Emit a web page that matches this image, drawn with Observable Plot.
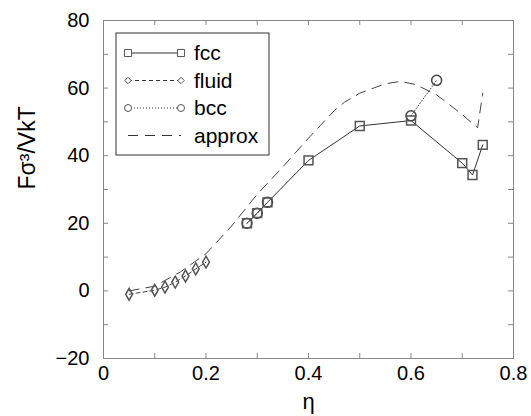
<!DOCTYPE html>
<html><head><meta charset="utf-8">
<script src="https://cdn.jsdelivr.net/npm/d3@7"></script>
<script src="https://cdn.jsdelivr.net/npm/@observablehq/plot@0.6"></script>
<style>body{margin:0;background:#fff}</style>
</head><body><div id="chart"></div>
<script>
// ---- data ----
const fccEta = [0.28, 0.30, 0.32, 0.40, 0.50, 0.60, 0.70, 0.72, 0.74];
const fccF   = [20.0, 23.0, 26.2, 38.6, 48.8, 50.4, 37.8, 34.3, 43.2];
const fluidEta = [0.05, 0.10, 0.12, 0.14, 0.16, 0.18, 0.20];
const fluidF   = [-1.0, 0.2, 1.1, 2.6, 4.4, 6.5, 8.5];
const bccEta = [0.28, 0.30, 0.32, 0.60, 0.65];
const bccF   = [20.0, 23.0, 26.2, 51.8, 62.3];
const bccSeg = [1, 1, 1, 2, 2];
const approxEta = [0.05, 0.10, 0.15, 0.20, 0.25, 0.30, 0.35, 0.40, 0.45, 0.47, 0.50, 0.55, 0.58, 0.61, 0.65, 0.70, 0.72, 0.73, 0.74];
const approxF   = [0.0, 1.4, 5.6, 11.0, 19.2, 28.6, 36.7, 45.2, 53.3, 55.8, 58.5, 61.3, 62.0, 61.0, 58.0, 52.2, 49.5, 48.3, 58.5];
const xTicks = [0, 0.1, 0.2, 0.3, 0.4, 0.5, 0.6, 0.7, 0.8];
const xLabels = [0, 0.2, 0.4, 0.6, 0.8];
const yTicks = [-20, -10, 0, 10, 20, 30, 40, 50, 60, 70, 80];
const yLabels = [-20, 0, 20, 40, 60, 80];
const seriesNames = ["fcc", "fluid", "bcc", "approx"];
const xTitle = "η";
const yTitle = "Fσ³/VkT";

// ---- tables ----
const fcc = fccEta.map((x, i) => ({x, y: fccF[i]}));
const fluid = fluidEta.map((x, i) => ({x, y: fluidF[i]}));
const bcc = bccEta.map((x, i) => ({x, y: bccF[i], z: bccSeg[i]}));
const approx = approxEta.map((x, i) => ({x, y: approxF[i]}));

const W = 531, H = 416, mL = 103, mR = 18, mT = 20, mB = 58;
const plotW = W - mL - mR, plotH = H - mT - mB;
const font = "'Liberation Sans', Arial, Helvetica, sans-serif";
const ink = "#333", grey = "#888";
const tick = 5;

const styles = {
  fcc:   {dash: null,    symbol: "square",  r: 5.0},
  fluid: {dash: "4,3",   symbol: "diamond", r: 3.6},
  bcc:   {dash: "1,2",   symbol: "circle",  r: 5.0},
  approx:{dash: "10,7",  symbol: null,      r: 0}
};

function legend(index, scales, values, dims) {
  const g = d3.create("svg:g").attr("font-family", font).attr("text-anchor", "start");
  const x0 = dims.marginLeft + 13, y0 = dims.marginTop + 13;
  g.append("rect").attr("x", x0).attr("y", y0).attr("width", 153).attr("height", 122)
    .attr("fill", "white").attr("stroke", ink).attr("stroke-width", 1);
  seriesNames.forEach((name, i) => {
    const st = styles[name];
    const cy = y0 + 20 + i * 27.5;
    const xa = x0 + 12, xb = x0 + 65;
    g.append("line").attr("x1", xa).attr("x2", xb).attr("y1", cy).attr("y2", cy)
      .attr("stroke", ink).attr("stroke-width", 1).attr("stroke-dasharray", st.dash);
    if (st.symbol) {
      const sym = {square: d3.symbolSquare, diamond: d3.symbolDiamond2, circle: d3.symbolCircle}[st.symbol];
      const size = st.symbol === "circle" ? Math.PI * 3.5 * 3.5 : Math.PI * (st.r * 0.8) * (st.r * 0.8);
      [xa, xb].forEach(px => g.append("path").attr("d", d3.symbol(sym, size)())
        .attr("transform", `translate(${px},${cy})`).attr("fill", "white").attr("stroke", "#555"));
    }
    g.append("text").attr("x", x0 + 78).attr("y", cy).attr("dy", "0.35em")
      .attr("font-size", 21).attr("fill", "#000").text(name);
  });
  return g.node();
}

const chart = Plot.plot({
  width: W, height: H,
  marginLeft: mL, marginRight: mR, marginTop: mT, marginBottom: mB,
  style: {fontFamily: font, background: "white"},
  x: {domain: [0, 0.8], axis: null},
  y: {domain: [-20, 80], axis: null},
  marks: [
    Plot.frame({stroke: grey}),
    // inward ticks on all four sides
    Plot.ruleX(xTicks, {x: d => d, insetTop: plotH - tick, stroke: grey}),
    Plot.ruleX(xTicks, {x: d => d, insetBottom: plotH - tick, stroke: grey}),
    Plot.ruleY(yTicks, {y: d => d, insetRight: plotW - tick, stroke: grey}),
    Plot.ruleY(yTicks, {y: d => d, insetLeft: plotW - tick, stroke: grey}),
    Plot.axisX(xLabels, {tickSize: 0, tickPadding: 7, fontSize: 20, label: null, tickFormat: d => d === 0 ? "0" : d3.format(".1f")(d), color: "#000"}),
    Plot.axisY(yLabels, {tickSize: 0, tickPadding: 14, fontSize: 20, label: null, color: "#000"}),
    Plot.text([xTitle], {text: d => d, frameAnchor: "bottom", dy: 50, fontSize: 22, fill: "#000"}),
    Plot.text([yTitle], {text: d => d, frameAnchor: "left", dx: -76, rotate: -90, fontSize: 23, fill: "#000"}),
    // series
    Plot.line(approx, {x: "x", y: "y", stroke: "#444", strokeWidth: 1, strokeDasharray: styles.approx.dash}),
    Plot.line(fluid, {x: "x", y: "y", stroke: "#444", strokeWidth: 1, strokeDasharray: styles.fluid.dash}),
    Plot.line(bcc, {x: "x", y: "y", z: "z", stroke: "#444", strokeWidth: 1, strokeDasharray: styles.bcc.dash}),
    Plot.line(fcc, {x: "x", y: "y", stroke: "#333", strokeWidth: 1}),
    Plot.dot(fluid, {x: "x", y: "y", symbol: "diamond", r: styles.fluid.r, stroke: "#555", fill: "none"}),
    Plot.dot(bcc, {x: "x", y: "y", symbol: "circle", r: styles.bcc.r, stroke: "#444", fill: "none"}),
    Plot.dot(fcc, {x: "x", y: "y", symbol: "square", r: styles.fcc.r, stroke: "#555", fill: "none"}),
    legend
  ]
});
document.getElementById("chart").append(chart);
</script>
</body></html>
